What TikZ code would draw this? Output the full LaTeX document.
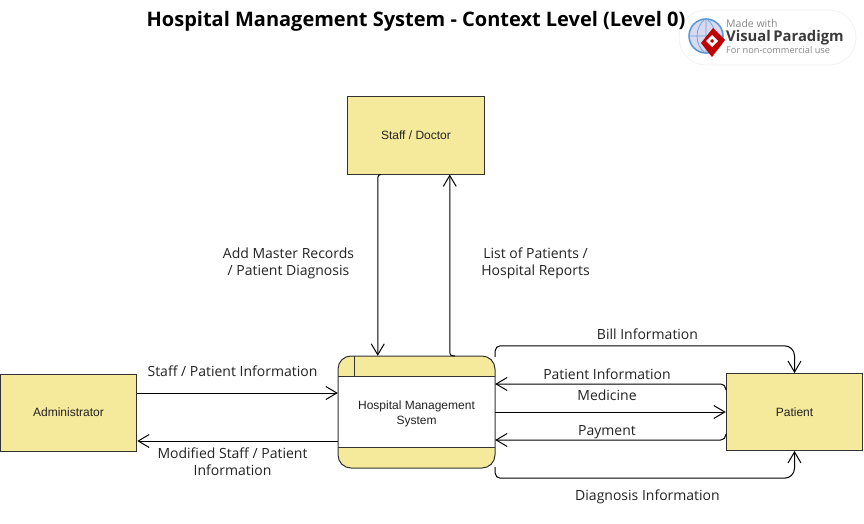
\documentclass[tikz,border=0pt]{standalone}
\usepackage{fontspec}
\setmainfont{Open Sans}
\newfontfamily\arialf{Liberation Sans}
\usetikzlibrary{arrows.meta,calc}
\definecolor{boxfill}{HTML}{F5E99C}
\definecolor{boxline}{HTML}{333333}
\definecolor{lbl}{HTML}{222222}
\definecolor{vpgrey}{HTML}{555555}
\tikzset{
  entity/.style={draw=boxline,fill=boxfill,line width=1pt,minimum width=136.5pt,minimum height=77pt,inner sep=0pt,font=\arialf\fontsize{12}{14}\selectfont,text=lbl,align=center},
  procbox/.style={draw=none,minimum width=157pt,minimum height=112pt,inner sep=0pt,font=\arialf\fontsize{12}{15}\selectfont,text=lbl,align=center},
  flow/.style={draw=black,line width=1pt,rounded corners=5pt,-{Straight Barb[length=11pt,width=13pt,line width=1pt]}},
  flowlabel/.style={font=\fontsize{14}{17}\selectfont,text=lbl,align=center,inner sep=0pt}
}
\begin{document}
\begin{tikzpicture}[x=1pt,y=-1pt]
\useasboundingbox (0,0) rectangle (864,524);
% process store shape
\draw[fill=white,draw=none,rounded corners=13pt] (338,356) rectangle (495,468);
\begin{scope}
\clip[rounded corners=13pt] (338,356) rectangle (495,468);
\fill[boxfill] (338,356) rectangle (495,376);
\fill[boxfill] (338,447) rectangle (495,468);
\end{scope}
\draw[boxline,line width=1pt,rounded corners=13pt] (338,356) rectangle (495,468);
\draw[boxline,line width=1pt] (338,376) -- (495,376) (338,447) -- (495,447) (354,356) -- (354,376);
\node[procbox] (proc) at (416.5,412) {\rule{0pt}{13pt}Hospital Management\\System};
\node[entity] (staff) at (416,135.5) {Staff / Doctor};
\node[entity] (admin) at (68.5,412.5) {Administrator};
\node[entity] (patient) at (794.5,412) {Patient};
% end points on the node borders
\coordinate (sdOut) at ($(staff.south west)+(30.5,0)$);
\coordinate (sdIn) at ($(staff.south west)+(102.5,0)$);
\coordinate (pIn) at (sdOut |- proc.north);
\coordinate (pOut) at (sdIn |- proc.north);
\draw[flow,rounded corners=3pt] (sdOut) ++(3,0) -- ++(-3,0) -- (pIn);
\draw[flow,rounded corners=3pt] ($(pOut)+(5,0)$) -- (pOut) -- (sdIn);
\draw[flow] ($(proc.north east)+(0,1)$) -- ($(proc.north east)+(0,-10)$) [rounded corners=10pt] -| (patient.north);
\draw[flow] ($(proc.south east)+(0,-1)$) -- ($(proc.south east)+(0,10)$) [rounded corners=10pt] -| (patient.south);
\draw[flow] ($(patient.west)+(0,-22)$) -- ($(patient.west)+(0,-28)$) -- ($(proc.east)+(0,-28)$);
\draw[flow] (proc.east) -- (patient.west);
\draw[flow] ($(patient.west)+(0,22)$) -- ($(patient.west)+(0,28)$) -- ($(proc.east)+(0,28)$);
\draw[flow] ($(admin.east)+(0,-19.5)$) -- ($(proc.west)+(0,-19)$);
\draw[flow] ($(proc.west)+(0,29)$) -- ($(admin.east)+(0,28.5)$);
% labels
\node[flowlabel] (l1) at (288.5,263) {Add Master Records\\/ Patient Diagnosis};
\node[flowlabel] (l2) at (535.5,263) {List of Patients /\\Hospital Reports};
\node[flowlabel] (l3) at (232.5,371) {Staff / Patient Information};
\node[flowlabel] (l4) at (232.5,462) {Modified Staff / Patient\\Information};
\node[flowlabel] (l5) at (647.5,334) {Bill Information};
\node[flowlabel] (l6) at (607,374) {Patient Information};
\node[flowlabel] (l7) at (607,395.5) {Medicine};
\node[flowlabel] (l8) at (607,432) {Payment};
\node[flowlabel] (l9) at (647.5,497) {Diagnosis Information};
% badge
\fill[white,rounded corners=27pt,draw=black!6,line width=.6pt] (679,10) rectangle (856,65);
\node[font=\bfseries\fontsize{20}{24}\selectfont,text=black,inner sep=0pt] (title) at (416,21) {Hospital Management System - Context Level (Level 0)};
\node[circle,draw=cyan!60!blue!70,fill=cyan!25!blue!15,line width=1.5pt,minimum size=34pt,inner sep=0pt] (globe) at (706,36) {};
\draw[cyan!60!blue!60,line width=.7pt] (globe.north) -- (globe.south) (globe.west) -- (globe.east)
  (globe.north) .. controls (694,27) and (694,45) .. (globe.south)
  (globe.north) .. controls (718,27) and (718,45) .. (globe.south);
\fill[red!75!black] (713,28) -- (725,40) -- (712,57) -- (701,43) -- cycle;
\fill[white] (712,35) -- (718,41) -- (712,47) -- (706,41) -- cycle;
\fill[red!75!black] (712,39) -- (714,41) -- (712,43) -- (710,41) -- cycle;
\node[anchor=west,inner sep=0pt,font=\fontsize{10.5}{12}\selectfont,text=vpgrey!70] (vp1) at (726,24) {Made with};
\node[anchor=west,inner sep=0pt,font=\bfseries\fontsize{14.8}{16}\selectfont,text=vpgrey!70!black] (vp2) at (726,37.5) {Visual\,Paradigm};
\node[anchor=west,inner sep=0pt,font=\fontsize{9.2}{12}\selectfont,text=vpgrey!70] (vp3) at (726,50.5) {For non-commercial use};
\end{tikzpicture}
\end{document}
